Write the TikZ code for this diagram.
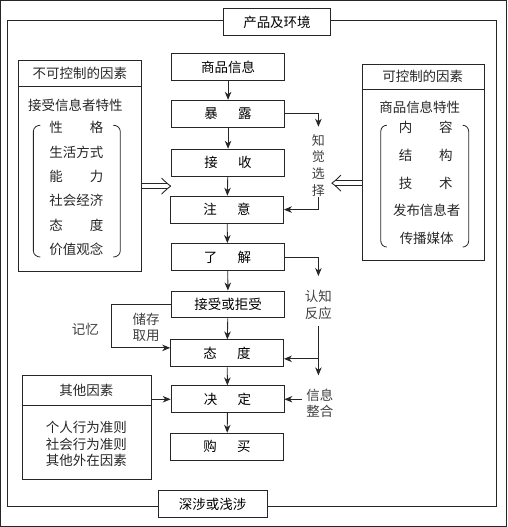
\documentclass[tikz,border=0pt]{standalone}
\usepackage{fontspec}
\setmainfont{Noto Sans CJK SC}
\usetikzlibrary{arrows.meta,calc}
\begin{document}
\begin{tikzpicture}[x=1pt,y=-1pt,
  font=\fontsize{13.5}{16.5}\selectfont,
  line width=0.9pt, every path/.style={draw=black!85},
  box/.style={draw=black!85, minimum width=113pt, minimum height=27pt, inner sep=0pt},
  frame/.style={draw=black!85, inner sep=0pt},
  arr/.style={-{Stealth[length=8pt,width=6.5pt,inset=2.5pt]}},
  dbl/.style={double=white, double distance=4pt, line width=0.8pt},
  chev/.style={line width=0.9pt, line join=round, line cap=round},
  txt/.style={inner sep=0pt, align=center, text=black!85},
  lbl/.style={inner sep=0pt, align=center, text=black!75},
  brk/.style={line width=0.8pt}]
\useasboundingbox (0,0) rectangle (507,527);

% outer frame
\draw (7,20) rectangle (497,507);
\node[box, minimum width=108pt, fill=white] (env) at (277,21.5) {产品及环境};
\node[box, minimum width=109pt, fill=white] (inv) at (212.5,504.5) {深涉或浅涉};

% main column
\node[box] (xx) at (228,67) {商品信息};
\node[box] (bl) at (228,113.5) {暴\hspace{1.5em}露};
\node[box] (js) at (228,162.5) {接\hspace{1.5em}收};
\node[box] (zy) at (227,209.5) {注\hspace{1.5em}意};
\node[box] (lj) at (227.5,257) {了\hspace{1.5em}解};
\node[box] (jj) at (228,304.5) {接受或拒受};
\node[box] (td) at (227,353.5) {态\hspace{1.5em}度};
\node[box] (jd) at (227.5,399.5) {决\hspace{1.5em}定};
\node[box] (gm) at (227,447) {购\hspace{1.5em}买};

\foreach \a/\b in {xx/bl, bl/js, js/zy, zy/lj, lj/jj, jj/td, td/jd, jd/gm}
  \draw[arr] (\a) -- (\b);

% left box: uncontrollable factors
\node[frame, minimum width=123pt, minimum height=211pt, anchor=north west] (unc) at (18,60) {};
\draw ([yshift=-26pt]unc.north west) -- ([yshift=-26pt]unc.north east);
\node[txt] (unch) at (79.5,73) {不可控制的因素};
\node[txt] (unct) at (75,105) {接受信息者特性};
\node[txt] (u1) at (76,127) {性\hspace{2em}格};
\node[txt] (u2) at (76,152) {生活方式};
\node[txt] (u3) at (76,176) {能\hspace{2em}力};
\node[txt] (u4) at (76,200) {社会经济};
\node[txt] (u5) at (76,225) {态\hspace{2em}度};
\node[txt] (u6) at (76,249) {价值观念};
\draw[brk] (40,125) to[out=180,in=90] (33,131) -- (33,251) to[out=-90,in=180] (40,257);
\draw[brk] (113,125) to[out=0,in=90] (120,131) -- (120,251) to[out=-90,in=0] (113,257);

% right box: controllable factors
\node[frame, minimum width=122pt, minimum height=196pt, anchor=north west] (con) at (362,64) {};
\draw ([yshift=-25pt]con.north west) -- ([yshift=-25pt]con.north east);
\node[txt] (conh) at (423,76.5) {可控制的因素};
\node[txt] (cont) at (420,107) {商品信息特性};
\node[txt] (c1) at (426,127) {内\hspace{2em}容};
\node[txt] (c2) at (426,155) {结\hspace{2em}构};
\node[txt] (c3) at (426,183) {技\hspace{2em}术};
\node[txt] (c4) at (427,210) {发布信息者};
\node[txt] (c5) at (427,238) {传播媒体};
\draw[brk] (387,125) to[out=180,in=90] (381,131) -- (381,241) to[out=-90,in=180] (387,247);
\draw[brk] (463,125) to[out=0,in=90] (469,131) -- (469,241) to[out=-90,in=0] (463,247);

% other factors box
\node[frame, minimum width=129pt, minimum height=104pt, anchor=north west] (oth) at (22,375) {};
\draw ([yshift=-31pt]oth.north west) -- ([yshift=-31pt]oth.north east);
\node[txt] (othh) at (86,391) {其他因素};
\node[txt, font=\fontsize{13.5}{16.6}\selectfont] (otht) at (86,444.5) {个人行为准则\\社会行为准则\\其他外在因素};

% side labels
\node[lbl, font=\fontsize{13}{16.7}\selectfont] (zj) at (318.5,165) {知\\觉\\选\\择};
\node[lbl] (rz) at (318.5,305) {认知\\反应};
\node[lbl] (xz) at (320,403.5) {信息\\整合};
\node[lbl] (cc) at (146,327.5) {储存\\取用};
\node[lbl] (jy) at (85,329) {记忆};

% side connectors
\draw[arr, shorten >=7pt] (bl.east) -| (zj.north);
\draw[arr] (zj.south) |- (zy.east);
\draw[arr, shorten >=14pt] (lj.east) -| (rz.north);
\draw[arr, shorten <=6pt, shorten >=13pt] (rz.south) -- (rz.south |- xz.north);
\coordinate (tdR) at ($(td.east)+(0,5.5)$);
\draw[arr] (rz.south |- tdR) -- (tdR);
\draw[arr, shorten <=4pt] (xz.west |- jd.east) -- (jd.east);
\coordinate (tdL) at ($(td.west)+(0,-5.5)$);
\draw[arr] (jj.west) -- ++(-60,0) |- (tdL);
\draw[arr] (oth.east |- jd.west) -- (jd.west);

% double arrows
\coordinate (dA) at ($(js.south west)!0.5!(zy.north west)$);
\draw[dbl, shorten >=3pt] (unc.east |- dA) -- (dA);
\draw[chev] ([shift={(-9,-8)}]dA) .. controls ([shift={(-4,-3)}]dA) .. (dA)
            .. controls ([shift={(-4,3)}]dA) .. ([shift={(-9,8)}]dA);
\coordinate (dB) at (332,183);
\draw[dbl, shorten >=3pt] (con.west |- dB) -- (dB);
\draw[chev] ([shift={(9,-8)}]dB) .. controls ([shift={(4,-3)}]dB) .. (dB)
            .. controls ([shift={(4,3)}]dB) .. ([shift={(9,8)}]dB);
\end{tikzpicture}
\end{document}
